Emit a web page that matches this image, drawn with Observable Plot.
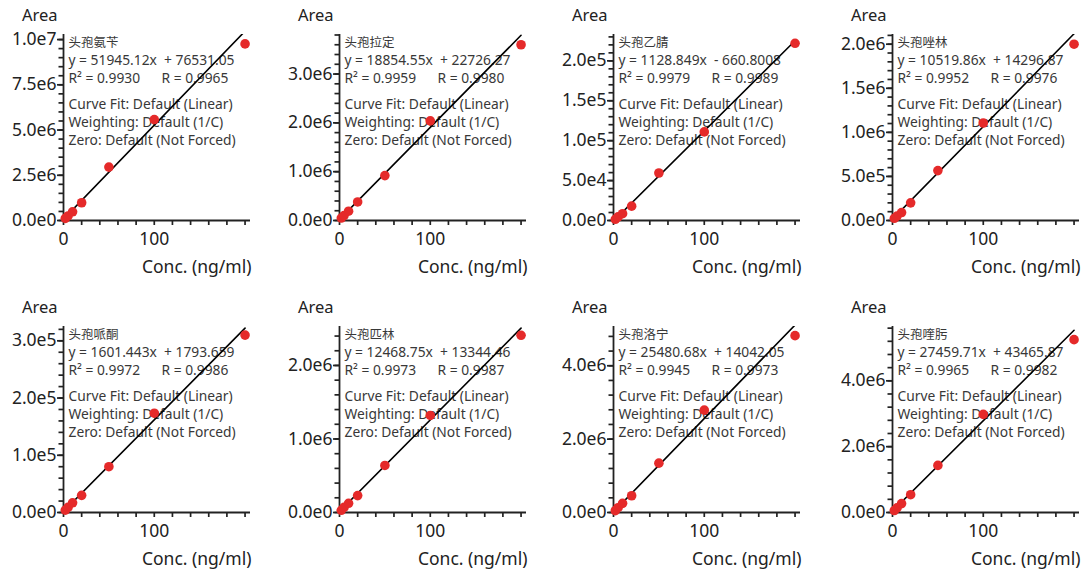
<!DOCTYPE html>
<html><head><meta charset="utf-8">
<script src="https://cdn.jsdelivr.net/npm/d3@7"></script>
<script src="https://cdn.jsdelivr.net/npm/@observablehq/plot@0.6"></script>
<style>
html,body{margin:0;padding:0;background:#fff;overflow:hidden;}
#wrap{position:relative;width:1082px;height:569px;overflow:hidden;}
#wrap svg{position:absolute;}
#wrap svg text{white-space:pre;}
</style></head><body><div id="wrap"></div>
<script>
// ---- data ----
const conc = [2, 5, 10, 20, 50, 100, 200];
const names = ["头孢氨苄", "头孢拉定", "头孢乙腈", "头孢唑林", "头孢哌酮", "头孢匹林", "头孢洛宁", "头孢喹肟"];
const equations = [
  "y = 51945.12x  + 76531.05",
  "y = 18854.55x  + 22726.27",
  "y = 1128.849x  - 660.8008",
  "y = 10519.86x  + 14296.87",
  "y = 1601.443x  + 1793.659",
  "y = 12468.75x  + 13344.46",
  "y = 25480.68x  + 14042.05",
  "y = 27459.71x  + 43465.87"
];
const slopes = [51945.12, 18854.55, 1128.849, 10519.86, 1601.443, 12468.75, 25480.68, 27459.71];
const intercepts = [76531.05, 22726.27, -660.8008, 14296.87, 1793.659, 13344.46, 14042.05, 43465.87];
const r2Values = ["0.9930", "0.9959", "0.9979", "0.9952", "0.9972", "0.9973", "0.9945", "0.9965"];
const rValues = ["0.9965", "0.9980", "0.9989", "0.9976", "0.9986", "0.9987", "0.9973", "0.9982"];
const notes = ["Curve Fit: Default (Linear)", "Weighting: Default (1/C)", "Zero: Default (Not Forced)"];

const area1 = [120000, 250000, 480000, 980000, 2950000, 5580000, 9760000];
const area2 = [50000, 100000, 190000, 380000, 920000, 2040000, 3600000];
const area3 = [1500, 4500, 8500, 18000, 59500, 111000, 222000];
const area4 = [25000, 50000, 90000, 200000, 566000, 1106000, 2000000];
const area5 = [4000, 9000, 17000, 30000, 80000, 173500, 310000];
const area6 = [30000, 70000, 125000, 230000, 640000, 1320000, 2410000];
const area7 = [50000, 130000, 250000, 457000, 1345000, 2790000, 4820000];
const area8 = [60000, 140000, 270000, 540000, 1430000, 2980000, 5250000];
const areas = [area1, area2, area3, area4, area5, area6, area7, area8];

const yMax = [1.028e7, 3.81e6, 2.33e5, 2.11e6, 3.25e5, 2.53e6, 5.07e6, 5.65e6];
const yMajorStep = [2.5e6, 1e6, 5e4, 5e5, 1e5, 1e6, 2e6, 2e6];
const yMinorStep = [5e5, 2e5, 1e4, 1e5, 2e4, 2e5, 4e5, 4e5];
const xMax = 206;
const xTicks = [0, 20, 40, 60, 80, 100, 120, 140, 160, 180, 200];
const xTickLabels = [0, 100];
const lineX = [0, 200];
const yTitle = "Area";
const xTitle = "Conc. (ng/ml)";

// ---- layout ----
const lefts = [0, 276, 550, 829];
const tops = [0, 292];
const font = "'Noto Sans', 'Open Sans', sans-serif";
const cjk = "'Noto Sans CJK SC', sans-serif";
const fmt = d => d3.format(".1e")(d).replace("+", "");
const wrap = document.getElementById("wrap");
const noteDy = [70, 88, 106];

areas.forEach((vals, i) => {
  const pts = conc.map((c, j) => ({c, a: vals[j]}));
  const s = slopes[i], b = intercepts[i];
  const majors = d3.range(0, yMax[i] + 1, yMajorStep[i]);
  const minors = d3.range(0, yMax[i] + 1, yMinorStep[i]);
  const txt = (str, dx, dy, extra = {}) => Plot.text([str], Object.assign({frameAnchor: "top-left", dx, dy, text: d => d, textAnchor: "start", lineAnchor: "middle", fontSize: 13.8, fill: "#383838"}, extra));
  const chart = Plot.plot({
    width: 253, height: 276,
    marginLeft: 63, marginRight: 3, marginTop: 34, marginBottom: 56,
    style: {fontFamily: font, fontSize: "17.5px", color: "#222", background: "white", overflow: "visible"},
    x: {domain: [0, xMax]},
    y: {domain: [0, yMax[i]]},
    marks: [
      txt(names[i], 5, 8, {fontSize: 12.5, fontFamily: cjk}),
      txt(equations[i], 5, 26),
      txt("R² = " + r2Values[i], 5, 44),
      txt("R = " + rValues[i], 98, 44),
      ...notes.map((n, k) => txt(n, 5, noteDy[k])),
      Plot.axisY({ticks: minors, tickSize: 4.5, tickFormat: () => "", strokeWidth: 1.7, label: null}),
      Plot.axisY({ticks: majors, tickSize: 6, tickPadding: 1, tickFormat: fmt, strokeWidth: 1.7, label: null, fontSize: 17.5}),
      Plot.axisX({ticks: xTicks, tickSize: 5, tickPadding: 7, tickFormat: d => xTickLabels.includes(d) ? String(d) : "", strokeWidth: 1.7, label: null, fontSize: 17.5}),
      Plot.ruleX([0], {strokeWidth: 1.8}),
      Plot.ruleY([0], {strokeWidth: 1.8}),
      Plot.text([yTitle], {frameAnchor: "top-left", dx: -6, dy: -19, text: d => d, textAnchor: "end", lineAnchor: "middle", fontSize: 16.5, fill: "#222"}),
      Plot.text([xTitle], {frameAnchor: "bottom-right", dx: 1, dy: 47, text: d => d, textAnchor: "end", lineAnchor: "middle", fontSize: 17.5, fill: "#222"}),
      Plot.line(lineX, {x: d => d, y: d => s * d + b, stroke: "black", strokeWidth: 1.6, clip: true}),
      Plot.dot(pts, {x: "c", y: "a", r: 4.8, fill: "#e52a2a", stroke: "none"})
    ]
  });
  chart.style.left = lefts[i % 4] + "px";
  chart.style.top = tops[Math.floor(i / 4)] + "px";
  wrap.appendChild(chart);
});
</script></body></html>
